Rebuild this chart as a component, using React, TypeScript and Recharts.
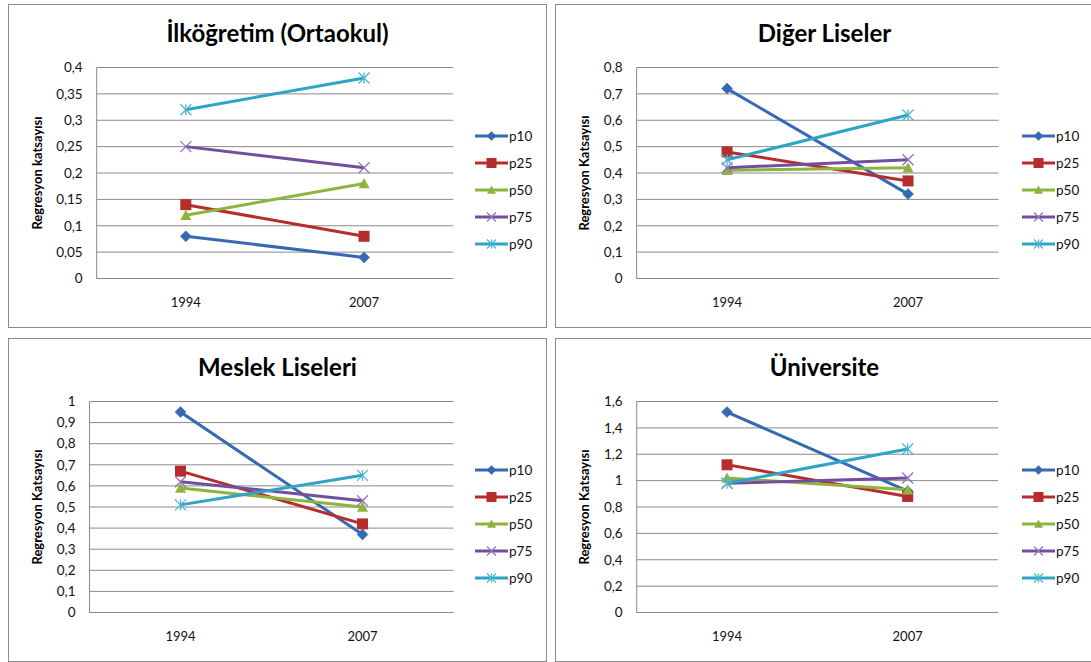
import React from 'react';
import { LineChart, Line, XAxis, YAxis, CartesianGrid, Legend } from 'recharts';

const years = ['1994', '2007'];
const seriesNames = ['p10', 'p25', 'p50', 'p75', 'p90'];
const seriesColors = ['#3569B3', '#B72C2C', '#8DB43E', '#70509E', '#2FA4C4'];
const markerColors = ['#3569B3', '#B72C2C', '#8DB43E', '#8F75BC', '#4DB6D4'];
const markerShapes = ['diamond', 'square', 'triangle', 'cross', 'star'];

const titles = ['İlköğretim (Ortaokul)', 'Diğer Liseler', 'Meslek Liseleri', 'Üniversite'];
const yLabels = ['Regresyon katsayısı', 'Regresyon Katsayısı', 'Regresyon Katsayısı', 'Regresyon Katsayısı'];

// values per series (p10..p90), each [1994, 2007]
const ilkogretimValues = [[0.08, 0.04], [0.14, 0.08], [0.12, 0.18], [0.25, 0.21], [0.32, 0.38]];
const digerLiselerValues = [[0.72, 0.32], [0.48, 0.37], [0.41, 0.42], [0.42, 0.45], [0.45, 0.62]];
const meslekLiseleriValues = [[0.95, 0.37], [0.67, 0.42], [0.59, 0.5], [0.62, 0.53], [0.51, 0.65]];
const universiteValues = [[1.52, 0.92], [1.12, 0.88], [1.02, 0.93], [0.98, 1.02], [0.98, 1.24]];

const ilkogretimTicks = [0, 0.05, 0.1, 0.15, 0.2, 0.25, 0.3, 0.35, 0.4];
const digerLiselerTicks = [0, 0.1, 0.2, 0.3, 0.4, 0.5, 0.6, 0.7, 0.8];
const meslekLiseleriTicks = [0, 0.1, 0.2, 0.3, 0.4, 0.5, 0.6, 0.7, 0.8, 0.9, 1];
const universiteTicks = [0, 0.2, 0.4, 0.6, 0.8, 1, 1.2, 1.4, 1.6];

const panelValues = [ilkogretimValues, digerLiselerValues, meslekLiseleriValues, universiteValues];
const panelTicks = [ilkogretimTicks, digerLiselerTicks, meslekLiseleriTicks, universiteTicks];

const panelLayouts = [
  { left: 8, top: 4, plotLeft: 87.7, plotRight: 444.2 },
  { left: 555, top: 4, plotLeft: 80.6, plotRight: 442.5 },
  { left: 8, top: 338, plotLeft: 80.5, plotRight: 444.5 },
  { left: 555, top: 338, plotLeft: 80.7, plotRight: 442 },
];

const FONT = 'Lato, "Open Sans", sans-serif';
const PANEL_W = 539;
const PANEL_H = 324;
const CHART_W = PANEL_W - 2;
const CHART_H = PANEL_H - 2;
const PLOT_TOP = 62.5;
const PLOT_BOTTOM = 273.5;
const GRID = '#8a8a8a';

function buildRows(values: number[][]) {
  return years.map((y, i) => {
    const row: Record<string, any> = { year: y };
    seriesNames.forEach((n, s) => {
      row[n] = values[s][i];
    });
    return row;
  });
}

function Marker({ shape, cx, cy, color, r = 5.5 }: { shape: string; cx: number; cy: number; color: string; r?: number }) {
  if (cx == null || cy == null) return null;
  switch (shape) {
    case 'diamond':
      return <polygon points={`${cx},${cy - r} ${cx + r},${cy} ${cx},${cy + r} ${cx - r},${cy}`} fill={color} stroke={color} strokeWidth={0.5} />;
    case 'square':
      return <rect x={cx - r} y={cy - r} width={2 * r} height={2 * r} fill={color} />;
    case 'triangle':
      return <polygon points={`${cx},${cy - r} ${cx + r},${cy + r * 0.85} ${cx - r},${cy + r * 0.85}`} fill={color} />;
    case 'cross':
      return (
        <g stroke={color} strokeWidth={1.3}>
          <line x1={cx - r} y1={cy - r} x2={cx + r} y2={cy + r} />
          <line x1={cx - r} y1={cy + r} x2={cx + r} y2={cy - r} />
        </g>
      );
    case 'star':
      return (
        <g stroke={color} strokeWidth={1.3}>
          <line x1={cx - r} y1={cy - r} x2={cx + r} y2={cy + r} />
          <line x1={cx - r} y1={cy + r} x2={cx + r} y2={cy - r} />
          <line x1={cx} y1={cy - r} x2={cx} y2={cy + r} />
        </g>
      );
    default:
      return null;
  }
}

function LegendContent() {
  return (
    <div style={{ fontFamily: FONT, fontSize: 13.5, color: '#111' }}>
      {seriesNames.map((n, i) => (
        <div key={n} style={{ height: 27.1, display: 'flex', alignItems: 'center' }}>
          <svg width={33} height={14} style={{ display: 'block' }}>
            <line x1={0} y1={7} x2={33} y2={7} stroke={seriesColors[i]} strokeWidth={3} />
            <Marker shape={markerShapes[i]} cx={16.5} cy={7} color={markerColors[i]} r={i === 1 ? 5 : 4.5} />
          </svg>
          <span style={{ marginLeft: 1 }}>{n}</span>
        </div>
      ))}
    </div>
  );
}

const fmt = (v: number) => String(v).replace('.', ',');

function Panel({ idx }: { idx: number }) {
  const layout = panelLayouts[idx];
  const data = buildRows(panelValues[idx]);
  const ticks = panelTicks[idx];
  const plotW = layout.plotRight - layout.plotLeft;
  const pad = plotW / 4;
  return (
    <div
      style={{
        position: 'absolute',
        left: layout.left,
        top: layout.top,
        width: PANEL_W,
        height: PANEL_H,
        border: '1px solid #8c8c8c',
        boxSizing: 'border-box',
        background: '#fff',
      }}
    >
      <svg width={CHART_W} height={50} style={{ position: 'absolute', left: 0, top: 0 }}>
        <text x={CHART_W / 2} y={37} textAnchor="middle" fontFamily={FONT} fontWeight="bold" fontSize={24} fill="#000">
          {titles[idx]}
        </text>
      </svg>
      <div style={{ position: 'absolute', left: 0, top: 0 }}>
        <LineChart
          width={CHART_W}
          height={CHART_H}
          data={data}
          margin={{ top: PLOT_TOP, right: CHART_W - layout.plotRight, bottom: 0, left: 0 }}
        >
          <CartesianGrid vertical={false} stroke={GRID} strokeWidth={1} />
          <XAxis
            dataKey="year"
            type="category"
            height={CHART_H - PLOT_BOTTOM}
            padding={{ left: pad, right: pad }}
            axisLine={{ stroke: GRID, strokeWidth: 1 }}
            tickLine={false}
            tickSize={0}
            tickMargin={19}
            tick={{ fill: '#111', fontSize: 13, fontFamily: FONT }}
          />
          <YAxis
            type="number"
            domain={[ticks[0], ticks[ticks.length - 1]]}
            ticks={ticks}
            interval={0}
            width={layout.plotLeft}
            axisLine={{ stroke: GRID, strokeWidth: 1 }}
            tickLine={false}
            tickSize={0}
            tickMargin={14}
            tickFormatter={fmt}
            tick={{ fill: '#111', fontSize: 13.5, fontFamily: FONT }}
            label={{
              value: yLabels[idx],
              angle: -90,
              position: 'insideLeft',
              offset: 28,
              textAnchor: 'middle',
              style: { textAnchor: 'middle', fontFamily: FONT, fontWeight: 'bold', fontSize: 13, fill: '#000' },
            }}
          />
          <Legend
            layout="vertical"
            align="center"
            verticalAlign="middle"
            content={() => <LegendContent />}
            wrapperStyle={{ left: 466, top: 117, width: 70 }}
          />
          {seriesNames.map((n, i) => (
            <Line
              key={n}
              dataKey={n}
              type="linear"
              stroke={seriesColors[i]}
              strokeWidth={3}
              strokeLinejoin="round"
              isAnimationActive={false}
              activeDot={false}
              dot={(p: any) => (
                <Marker key={`${n}-${p.index}`} shape={markerShapes[i]} cx={p.cx} cy={p.cy} color={markerColors[i]} />
              )}
            />
          ))}
        </LineChart>
      </div>
    </div>
  );
}

export default function App() {
  return (
    <div style={{ position: 'absolute', left: 0, top: 0, width: 1091, height: 662, background: '#fff', overflow: 'hidden', fontFamily: FONT }}>
      {[0, 1, 2, 3].map((i) => (
        <Panel key={i} idx={i} />
      ))}
    </div>
  );
}
